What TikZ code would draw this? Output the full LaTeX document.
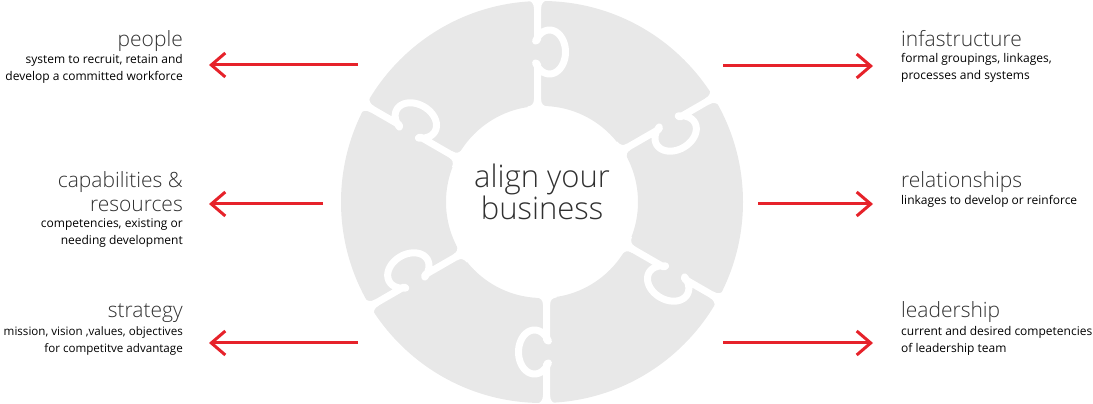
\documentclass[tikz,border=0pt]{standalone}
\usepackage{fontspec}
\setmainfont{Open Sans}
\newfontfamily\lightfont{Open Sans Light}
\usetikzlibrary{arrows.meta}
\definecolor{ringgrey}{HTML}{E8E8E8}
\definecolor{arrowred}{HTML}{E6222A}
\definecolor{textgrey}{HTML}{303030}
\begin{document}
\begin{tikzpicture}[x=1pt,y=1pt,
  headtext/.style={font=\lightfont\fontsize{21}{24}\selectfont, text=textgrey, inner sep=0pt},
  subtext/.style={font=\fontsize{12}{17}\selectfont, text=black, inner sep=0pt},
  redarrow/.style={arrowred, line width=3pt, -{Straight Barb[length=14pt,width=24pt]}},
  gapline/.style={white, line width=7pt, line join=round}]
\useasboundingbox (0,0) rectangle (1093,404);
%%% the puzzle ring
\fill[ringgrey, even odd rule] (542,202) circle (201) (542,202) circle (96);
\foreach \a in {90,30,-30,-90,-150,150}{
  \begin{scope}[shift={(542,202)}, rotate=\a]
  % gap with its knob
  \draw[gapline] (88,4.5) -- (138,4.5)
    -- plot[domain=120:420, samples=60] ({150+22*cos(\x)}, {-7.5+16*sin(\x)})
    -- (162,4.5) -- (210,4.5);
  % rounded piece corners at the rims
  \fill[white] (193,8) .. controls (198.5,8) and (201,10.5) .. (202,14.5) -- (206,14.5)
    -- (206,-5.5) -- (202,-5.5) .. controls (201,-1.5) and (198.5,1) .. (193,1) -- cycle;
  \fill[white] (103,8) .. controls (98,8) and (96,10.5) .. (95.5,14.5) -- (90,14.5)
    -- (90,-5.5) -- (95.5,-5.5) .. controls (96,-1.5) and (98,1) .. (103,1) -- cycle;
  \end{scope}}
\node[font=\lightfont\fontsize{31}{32}\selectfont, text=textgrey, align=center, inner sep=0pt, anchor=base] (align)
  at (542,184) {align your\\business};
%%% left side (base anchor = last line)
\node[headtext, anchor=base east] (people) at (183,357) {people};
\node[subtext, anchor=base east, align=right] (peopleSub) at (183,323)
  {system to recruit, retain and\\develop a committed workforce};
\node[headtext, anchor=base east, align=right] (capab) at (183,192) {capabilities \&\\resources};
\node[subtext, anchor=base east, align=right] (capabSub) at (183,159)
  {competencies, existing or\\needing development};
\node[headtext, anchor=base east] (strategy) at (183,86) {strategy};
\node[subtext, font=\fontsize{11.6}{17}\selectfont, anchor=base east, align=right] (strategySub) at (183,51)
  {mission, vision ,values, objectives\\for competitve advantage};
%%% right side
\node[headtext, anchor=base west] (infra) at (901,357) {infastructure};
\node[subtext, anchor=base west, align=left] (infraSub) at (901,324)
  {formal groupings, linkages,\\processes and systems};
\node[headtext, anchor=base west] (relat) at (901,216) {relationships};
\node[subtext, anchor=base west, align=left] (relatSub) at (901,199)
  {linkages to develop or reinforce};
\node[headtext, anchor=base west] (leader) at (901,86) {leadership};
\node[subtext, anchor=base west, align=left] (leaderSub) at (901,51)
  {current and desired competencies\\of leadership team};
%%% arrows
\coordinate (aPeople) at (358,339);
\coordinate (aCapab) at (323,200);
\coordinate (aStrategy) at (358,61);
\coordinate (aInfra) at (723,338);
\coordinate (aRelat) at (758,200);
\coordinate (aLeader) at (723,61);
\draw[redarrow, shorten >=26pt] (aPeople) -- (aPeople -| peopleSub.east);
\draw[redarrow, shorten >=26pt] (aCapab) -- (aCapab -| capabSub.east);
\draw[redarrow, shorten >=26pt] (aStrategy) -- (aStrategy -| strategySub.east);
\draw[redarrow, shorten >=28pt] (aInfra) -- (aInfra -| infraSub.west);
\draw[redarrow, shorten >=28pt] (aRelat) -- (aRelat -| relatSub.west);
\draw[redarrow, shorten >=28pt] (aLeader) -- (aLeader -| leaderSub.west);
\end{tikzpicture}
\end{document}
